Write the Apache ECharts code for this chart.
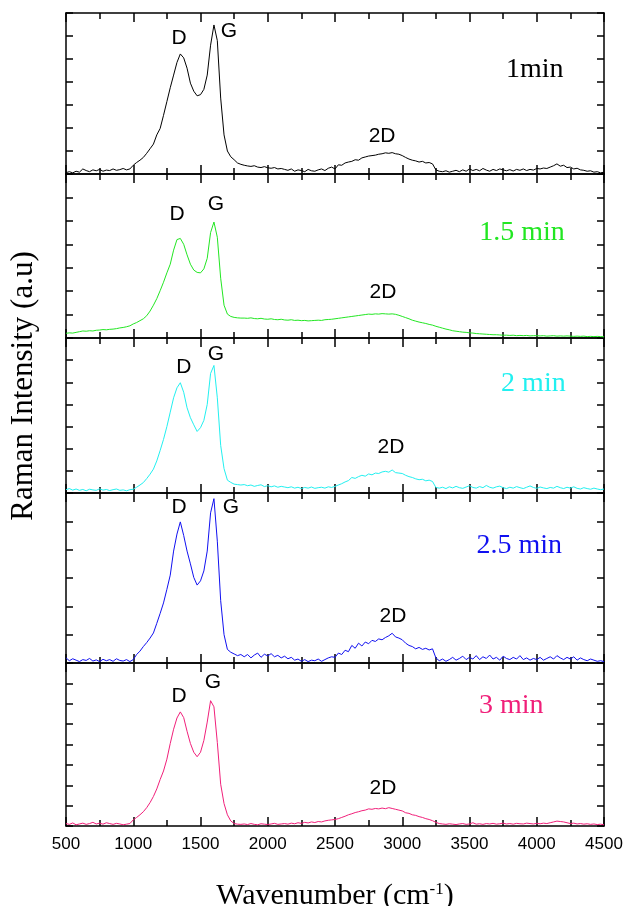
<!DOCTYPE html>
<html>
<head>
<meta charset="utf-8">
<script src="https://cdn.jsdelivr.net/npm/echarts@6/dist/echarts.min.js"></script>
<style>html,body{margin:0;padding:0;background:#fff}#c{width:627px;height:906px}</style>
</head>
<body>
<div id="c"></div>
<script>
// Wavenumber sampling grid (cm^-1)
const wavenumber = [
500,525,550,575,600,625,650,675,700,725,750,775,800,825,850,875,900,925,950,975,
1000,1025,1050,1075,1100,1125,1150,1175,1200,1225,1250,1275,1300,1325,1350,1375,1400,1425,1450,1475,
1500,1525,1550,1575,1600,1625,1650,1675,1700,1725,1750,1775,1800,1825,1850,1875,1900,1925,1950,1975,
2000,2025,2050,2075,2100,2125,2150,2175,2200,2225,2250,2275,2300,2325,2350,2375,2400,2425,2450,2475,
2500,2525,2550,2575,2600,2625,2650,2675,2700,2725,2750,2775,2800,2825,2850,2875,2900,2925,2950,2975,
3000,3025,3050,3075,3100,3125,3150,3175,3200,3225,3250,3275,3300,3325,3350,3375,3400,3425,3450,3475,
3500,3525,3550,3575,3600,3625,3650,3675,3700,3725,3750,3775,3800,3825,3850,3875,3900,3925,3950,3975,
4000,4025,4050,4075,4100,4125,4150,4175,4200,4225,4250,4275,4300,4325,4350,4375,4400,4425,4450,4475,
4500];

// Intensities (arbitrary units, one tick = 1)
const int1min = [
0.06,0.10,0.05,0.12,0.08,0.22,0.15,0.10,0.18,0.14,0.20,0.12,0.17,0.15,0.22,0.16,0.19,0.24,0.18,0.22,
0.38,0.50,0.60,0.72,0.90,1.10,1.30,1.70,1.98,2.55,3.15,3.75,4.30,4.85,5.22,5.05,4.60,3.95,3.60,3.40,
3.45,3.68,4.30,5.60,6.48,5.80,3.30,1.70,1.00,0.75,0.62,0.48,0.42,0.38,0.35,0.33,0.36,0.30,0.28,0.32,
0.27,0.25,0.28,0.22,0.24,0.20,0.16,0.22,0.12,0.18,0.15,0.10,0.20,0.14,0.12,0.18,0.22,0.15,0.25,0.30,
0.22,0.40,0.38,0.48,0.52,0.55,0.62,0.60,0.70,0.74,0.78,0.80,0.82,0.86,0.88,0.92,0.90,0.93,0.88,0.86,
0.80,0.72,0.65,0.60,0.57,0.52,0.55,0.48,0.50,0.44,0.18,0.12,0.10,0.14,0.08,0.12,0.16,0.10,0.18,0.12,
0.22,0.15,0.20,0.14,0.24,0.17,0.12,0.20,0.15,0.22,0.18,0.14,0.19,0.13,0.20,0.16,0.22,0.15,0.20,0.17,
0.24,0.22,0.26,0.24,0.30,0.36,0.44,0.34,0.38,0.28,0.30,0.22,0.25,0.18,0.16,0.12,0.14,0.08,0.10,0.05,
0.08];
const int15min = [
0.20,0.22,0.21,0.24,0.27,0.30,0.29,0.31,0.30,0.33,0.34,0.36,0.35,0.37,0.38,0.40,0.43,0.45,0.48,0.52,
0.60,0.66,0.74,0.82,0.95,1.15,1.40,1.68,2.02,2.38,2.78,3.15,3.75,4.20,4.25,4.00,3.55,3.15,2.90,2.80,
2.78,2.95,3.40,4.50,4.95,4.30,2.55,1.40,1.02,0.92,0.88,0.86,0.85,0.85,0.84,0.86,0.83,0.82,0.84,0.81,
0.80,0.82,0.79,0.78,0.80,0.77,0.76,0.78,0.75,0.76,0.74,0.75,0.73,0.74,0.75,0.76,0.75,0.78,0.79,0.80,
0.82,0.84,0.86,0.88,0.90,0.92,0.94,0.96,0.98,1.00,1.02,1.01,1.03,1.02,1.04,1.03,1.02,1.03,1.01,0.97,
0.92,0.87,0.82,0.76,0.72,0.68,0.65,0.62,0.58,0.55,0.50,0.46,0.42,0.38,0.35,0.31,0.29,0.27,0.25,0.24,
0.22,0.21,0.19,0.18,0.17,0.16,0.15,0.14,0.14,0.13,0.12,0.12,0.11,0.12,0.10,0.11,0.10,0.11,0.09,0.10,
0.10,0.09,0.10,0.08,0.09,0.10,0.08,0.09,0.08,0.09,0.08,0.07,0.08,0.07,0.08,0.06,0.07,0.06,0.07,0.06,
0.05];
const int2min = [
0.15,0.20,0.13,0.18,0.12,0.16,0.10,0.17,0.14,0.12,0.19,0.13,0.16,0.11,0.15,0.18,0.12,0.14,0.10,0.15,
0.17,0.26,0.36,0.47,0.65,0.85,1.08,1.45,1.92,2.42,3.00,3.65,4.30,4.75,4.98,4.55,3.85,3.40,3.08,2.78,
2.95,3.28,4.00,5.40,5.76,4.30,2.15,1.10,0.58,0.48,0.40,0.38,0.36,0.38,0.33,0.36,0.30,0.34,0.37,0.29,
0.33,0.28,0.32,0.26,0.30,0.27,0.24,0.28,0.22,0.26,0.20,0.25,0.22,0.27,0.21,0.24,0.26,0.22,0.28,0.25,
0.30,0.36,0.42,0.50,0.56,0.70,0.66,0.74,0.80,0.76,0.86,0.82,0.90,0.88,0.95,0.98,0.94,1.04,0.92,0.90,
0.88,0.80,0.74,0.70,0.64,0.60,0.62,0.55,0.58,0.52,0.25,0.22,0.26,0.20,0.28,0.23,0.30,0.24,0.21,0.27,
0.33,0.25,0.22,0.29,0.24,0.34,0.26,0.22,0.28,0.31,0.24,0.20,0.26,0.22,0.29,0.24,0.20,0.26,0.32,0.25,
0.21,0.27,0.23,0.20,0.25,0.22,0.30,0.24,0.20,0.26,0.22,0.28,0.21,0.18,0.24,0.20,0.17,0.22,0.18,0.15,
0.18];
const int25min = [
0.18,0.08,0.15,0.10,0.05,0.12,0.09,0.16,0.07,0.11,0.05,0.13,0.08,0.12,0.06,0.15,0.09,0.07,0.12,0.05,
0.12,0.30,0.42,0.58,0.72,0.88,1.06,1.40,1.75,2.12,2.60,3.10,3.95,4.55,4.98,4.50,3.95,3.50,3.02,2.75,
2.90,3.25,3.95,5.30,5.80,4.30,2.20,1.00,0.48,0.38,0.32,0.26,0.30,0.22,0.30,0.18,0.28,0.35,0.20,0.31,
0.25,0.33,0.22,0.27,0.18,0.24,0.15,0.20,0.10,0.14,0.06,0.12,0.05,0.10,0.08,0.14,0.06,0.12,0.18,0.22,
0.20,0.35,0.30,0.45,0.40,0.62,0.52,0.70,0.60,0.74,0.68,0.80,0.76,0.85,0.82,0.90,0.96,1.05,0.92,0.88,
0.82,0.70,0.62,0.58,0.50,0.55,0.48,0.52,0.46,0.50,0.18,0.08,0.14,0.06,0.12,0.20,0.10,0.16,0.24,0.12,
0.20,0.14,0.26,0.12,0.22,0.16,0.28,0.14,0.20,0.10,0.24,0.16,0.12,0.20,0.14,0.26,0.12,0.18,0.10,0.16,
0.12,0.20,0.10,0.16,0.22,0.14,0.26,0.18,0.12,0.20,0.14,0.22,0.10,0.18,0.12,0.08,0.14,0.10,0.06,0.08,
0.05];
const int3min = [
0.12,0.08,0.15,0.06,0.10,0.14,0.08,0.12,0.18,0.10,0.14,0.09,0.16,0.12,0.08,0.13,0.10,0.06,0.09,0.12,
0.30,0.42,0.55,0.70,0.90,1.15,1.45,1.82,2.28,2.70,3.28,4.05,4.75,5.30,5.60,5.32,4.65,4.05,3.62,3.40,
3.62,4.20,5.10,6.15,5.85,4.10,2.05,1.10,0.55,0.25,0.12,0.09,0.08,0.10,0.07,0.12,0.08,0.06,0.11,0.09,
0.07,0.10,0.13,0.08,0.10,0.12,0.09,0.14,0.11,0.16,0.13,0.18,0.15,0.20,0.17,0.22,0.20,0.25,0.28,0.30,
0.32,0.36,0.42,0.48,0.55,0.60,0.66,0.70,0.75,0.78,0.84,0.82,0.86,0.84,0.88,0.85,0.90,0.86,0.82,0.78,
0.74,0.65,0.62,0.55,0.52,0.46,0.42,0.36,0.32,0.26,0.18,0.12,0.10,0.08,0.11,0.09,0.07,0.10,0.12,0.08,
0.10,0.16,0.09,0.11,0.08,0.12,0.10,0.13,0.09,0.11,0.14,0.10,0.12,0.09,0.13,0.11,0.10,0.14,0.12,0.10,
0.13,0.11,0.14,0.12,0.16,0.20,0.24,0.22,0.20,0.16,0.12,0.14,0.10,0.12,0.09,0.11,0.08,0.10,0.07,0.09,
0.06];

const timeLabels = ['1min', '1.5 min', '2 min', '2.5 min', '3 min'];
const lineColors = ['#000000', '#22e622', '#22f0f0', '#1010f0', '#f0207a'];
const spectra = [int1min, int15min, int2min, int25min, int3min];
const yMax = [7, 7, 7, 6, 8];
// Annotation anchors in data units: [x, y]
const dPos = [[1340, 5.9], [1325, 5.3], [1377, 5.7], [1340, 5.5], [1340, 6.35]];
const gPos = [[1712, 6.2], [1615, 5.7], [1615, 6.25], [1727, 5.5], [1593, 7.05]];
const twoDPos = [[2850, 1.65], [2857, 1.95], [2916, 2.05], [2931, 1.65], [2857, 1.85]];
const timePos = [[3985, 4.55], [3890, 4.5], [3975, 4.95], [3870, 4.15], [3810, 5.9]];

const gridTops = [13, 174, 338, 493, 663];
const gridHeights = [161, 164, 155, 170, 163];

const sans = "'Liberation Sans', Arial, sans-serif";
const serif = "'Liberation Serif', 'Times New Roman', serif";

const grids = [], xAxes = [], yAxes = [], series = [];
for (let i = 0; i < 5; i++) {
  grids.push({ left: 66, right: 23, top: gridTops[i], height: gridHeights[i], containLabel: false, outerBoundsMode: 'none' });
  const isLast = i === 4;
  ['bottom', 'top'].forEach(function (pos) {
    xAxes.push({
      type: 'value', gridIndex: i, position: pos, min: 500, max: 4500, interval: 500,
      axisLine: { show: true, onZero: false, lineStyle: { color: '#000', width: 1.5 } },
      axisTick: { show: true, inside: true, length: 9, lineStyle: { color: '#000', width: 1.5 } },
      minorTick: { show: true, splitNumber: 2, length: 6, lineStyle: { color: '#000', width: 1.5 } },
      splitLine: { show: false },
      axisLabel: {
        show: isLast && pos === 'bottom', color: '#000', fontSize: 17, fontFamily: sans, margin: 10,
        formatter: function (v) { return String(v); }
      },
      name: (isLast && pos === 'bottom') ? 'Wavenumber (cm{sup|-1})' : '',
      nameLocation: 'middle', nameGap: 55,
      nameTextStyle: {
        color: '#000', fontSize: 30, fontFamily: serif,
        rich: { sup: { fontSize: 17, fontFamily: serif, color: '#000', padding: [0, 0, 14, 0] } }
      }
    });
  });
  ['left', 'right'].forEach(function (pos) {
    yAxes.push({
      type: 'value', gridIndex: i, position: pos, min: 0, max: yMax[i], interval: 1,
      axisLine: { show: true, onZero: false, lineStyle: { color: '#000', width: 1.5 } },
      axisTick: { show: true, inside: true, length: 7, lineStyle: { color: '#000', width: 1.5 } },
      splitLine: { show: false },
      axisLabel: { show: false }
    });
  });
  const pts = wavenumber.map(function (w, k) { return [w, spectra[i][k]]; });
  const peakLabel = function (coord, text, font, size, color) {
    return {
      coord: coord, value: text, symbolSize: 0,
      label: { show: true, position: 'inside', formatter: text, color: color, fontSize: size, fontFamily: font }
    };
  };
  series.push({
    type: 'line', xAxisIndex: 2 * i, yAxisIndex: 2 * i, data: pts,
    showSymbol: false, symbol: 'none', animation: false,
    lineStyle: { color: lineColors[i], width: 1 },
    markPoint: {
      symbol: 'circle', symbolSize: 0, animation: false,
      data: [
        peakLabel(dPos[i], 'D', sans, 21, '#000'),
        peakLabel(gPos[i], 'G', sans, 21, '#000'),
        peakLabel(twoDPos[i], '2D', sans, 21, '#000'),
        peakLabel(timePos[i], timeLabels[i], serif, 28, lineColors[i])
      ]
    }
  });
}

const chart = echarts.init(document.getElementById('c'), null, { renderer: 'canvas' });
chart.setOption({
  backgroundColor: '#fff',
  animation: false,
  grid: grids,
  xAxis: xAxes,
  yAxis: yAxes,
  series: series,
  graphic: [{
    type: 'text',
    x: 24, y: 386, rotation: Math.PI / 2,
    style: { text: 'Raman Intensity (a.u)', fill: '#000', font: "31px 'Liberation Serif', 'Times New Roman', serif", textAlign: 'center', textVerticalAlign: 'middle' }
  }]
});
</script>
</body>
</html>
